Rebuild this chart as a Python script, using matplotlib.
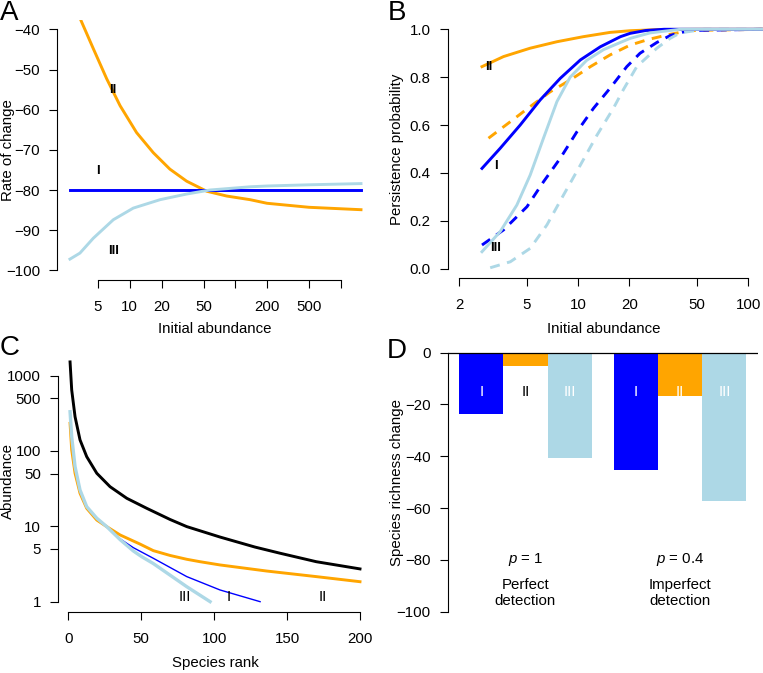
import matplotlib
matplotlib.use('Agg')
import matplotlib.pyplot as plt
from matplotlib.ticker import FixedLocator, NullLocator, FixedFormatter

matplotlib.rc('font', family='Liberation Sans', size=10.8)
matplotlib.rcParams['mathtext.fontset'] = 'custom'
matplotlib.rcParams['mathtext.it'] = 'Liberation Sans:italic'
matplotlib.rcParams['mathtext.rm'] = 'Liberation Sans'

BLUE = '#0000ff'
ORANGE = '#ffa500'
LBLUE = '#add8e6'

# ---- panel A: rate of change vs initial abundance
a_n_orange = [3.37, 4.51, 6.04, 8.09, 11.6, 16.7, 24.0, 34.6, 53.6, 83, 138, 200, 500, 1556]
a_orange = [-37.2, -44.8, -52.3, -59.0, -65.7, -70.7, -74.8, -77.8, -80.3, -81.5, -82.4, -83.3, -84.3, -84.9]
a_n_lblue = [2.71, 3.37, 4.51, 6.98, 10.8, 19.4, 34.6, 57.5, 138, 200, 500, 1556]
a_lblue = [-97.2, -95.7, -92.0, -87.4, -84.5, -82.4, -81.0, -80.0, -79.2, -79.0, -78.7, -78.4]
a_n_blue = [2.71, 1556]
a_blue = [-80, -80]
a_xticks = [5, 10, 20, 50, 100, 200, 500, 1000]
a_xticklabels = ['5', '10', '20', '50', '', '200', '500', '']
a_yticks = [-40, -50, -60, -70, -80, -90, -100]

# ---- panel B: persistence probability (solid = perfect, dashed = imperfect detection)
b_n_orange = [2.72, 3.64, 5.22, 7.5, 10.7, 15.4, 20.2, 30, 50, 125]
b_orange = [0.844, 0.886, 0.921, 0.948, 0.969, 0.987, 0.994, 0.999, 1.0, 1.0]
b_n_blue = [2.72, 3.48, 4.56, 5.98, 7.84, 10.3, 13.5, 17.7, 20.2, 25, 32, 125]
b_blue = [0.419, 0.503, 0.6, 0.705, 0.795, 0.872, 0.927, 0.969, 0.983, 0.995, 1.0, 1.0]
b_n_lblue = [2.72, 3.48, 4.36, 5.22, 6.25, 7.5, 8.97, 11.2, 14.1, 17.7, 20.2, 26.5, 40, 125]
b_lblue = [0.071, 0.155, 0.266, 0.391, 0.545, 0.698, 0.8, 0.87, 0.915, 0.945, 0.962, 0.985, 1.0, 1.0]
b_n_orange_d = [2.97, 3.99, 5.22, 6.85, 8.97, 11.8, 15.4, 20.2, 26, 34.7, 45.5, 125]
b_orange_d = [0.545, 0.614, 0.677, 0.739, 0.788, 0.844, 0.893, 0.934, 0.958, 0.979, 0.995, 1.0]
b_n_blue_d = [2.72, 3.64, 5.0, 6.25, 7.84, 9.83, 12.3, 15.4, 19.3, 23.1, 29, 35, 45, 125]
b_blue_d = [0.099, 0.162, 0.259, 0.363, 0.461, 0.572, 0.67, 0.754, 0.844, 0.9, 0.945, 0.975, 0.995, 1.0]
b_n_lblue_d = [3.04, 3.99, 5.22, 6.55, 8.2, 10.3, 12.9, 16.1, 18.5, 22.1, 29, 34.7, 39.8, 55, 125]
b_lblue_d = [0.004, 0.029, 0.085, 0.183, 0.308, 0.433, 0.558, 0.67, 0.75, 0.844, 0.921, 0.962, 0.985, 1.0, 1.0]
b_xticks = [2, 5, 10, 20, 50, 100]
b_yticks = [0.0, 0.2, 0.4, 0.6, 0.8, 1.0]

# ---- panel C: rank abundance
c_rank_black = [1.17, 2.3, 4.6, 8.0, 12.6, 19.5, 28.6, 40.1, 53.8, 69.8, 81.2, 104, 128, 145, 170, 200]
c_black = [1514, 643, 284, 140, 83.8, 50.5, 33.5, 23.5, 17.3, 12.3, 9.9, 7.2, 5.3, 4.4, 3.39, 2.72]
c_rank_orange = [1.17, 2.3, 4.6, 8.0, 12.6, 19.5, 26.3, 35.5, 49.2, 58.3, 69.8, 81.2, 90.3, 104, 136, 170, 200]
c_orange = [232, 103, 50.5, 27.4, 17.3, 12.1, 9.9, 7.67, 5.8, 4.75, 4.1, 3.65, 3.39, 3.07, 2.55, 2.15, 1.84]
c_rank_lblue = [1.17, 2.3, 4.6, 8.0, 12.6, 19.5, 26.3, 35.5, 44.6, 50.3, 58.3, 66.3, 81.2, 97.2]
c_lblue = [331, 154, 61.7, 30.3, 18.2, 12.8, 9.9, 6.65, 4.7, 3.95, 3.2, 2.5, 1.58, 1.0]
c_rank_blue = [1.17, 2.3, 4.6, 8.0, 12.6, 19.5, 26.3, 35.5, 44.6, 58.3, 81.2, 104, 131.5]
c_blue = [331, 154, 61.7, 30.3, 18.2, 12.8, 9.9, 6.8, 5.2, 3.76, 2.15, 1.43, 1.0]
c_xticks = [0, 50, 100, 150, 200]
c_yticks = [1, 5, 10, 50, 100, 500, 1000]

# ---- panel D: species richness change
d_scenarios = ['I', 'II', 'III']
d_perfect = [-23.7, -5.0, -40.8]
d_imperfect = [-45.4, -16.8, -57.4]
d_yticks = [0, -20, -40, -60, -80, -100]


def r_style(ax, xb=None, yb=None):
    ax.spines['top'].set_visible(False)
    ax.spines['right'].set_visible(False)
    for s in ('left', 'bottom'):
        ax.spines[s].set_linewidth(0.8)
    if xb is not None:
        ax.spines['bottom'].set_bounds(*xb)
    if yb is not None:
        ax.spines['left'].set_bounds(*yb)
    ax.tick_params(axis='both', direction='out', length=5.8, width=0.8)
    ax.tick_params(axis='x', pad=8.5)
    ax.tick_params(axis='y', pad=6.5)


fig = plt.figure(figsize=(7.63, 6.73), dpi=100)
W, H = 763.0, 673.0


def add_axes(x0, x1, y0, y1):
    return fig.add_axes([x0 / W, 1 - y1 / H, (x1 - x0) / W, (y1 - y0) / H])


# A
ax = add_axes(57.2, 372.7, 19.7, 280)
ax.set_xscale('log')
ax.plot(a_n_orange, a_orange, color=ORANGE, lw=2.1)
ax.plot(a_n_blue, a_blue, color=BLUE, lw=2.1)
ax.plot(a_n_lblue, a_lblue, color=LBLUE, lw=2.1)
ax.set_xlim(10 ** 0.312, 10 ** 3.303)
ax.set_ylim(-102.4, -37.6)
ax.xaxis.set_major_locator(FixedLocator(a_xticks))
ax.xaxis.set_major_formatter(FixedFormatter(a_xticklabels))
ax.xaxis.set_minor_locator(NullLocator())
ax.set_yticks(a_yticks)
r_style(ax, (5, 1000), (-100, -40))
ax.text(6.9, -55.0, 'II', fontweight='bold', fontsize=9.5, ha='center', va='center')
ax.text(5, -75.3, 'I', fontweight='bold', fontsize=9.5, ha='center', va='center')
ax.text(7, -95.1, 'III', fontweight='bold', fontsize=9.5, ha='center', va='center')
ax.set_xlabel('Initial abundance', va='center')
ax.xaxis.set_label_coords(0.5, -0.188)
ax.set_ylabel('Rate of change', va='center')
ax.yaxis.set_label_coords(-0.155, 0.5)

# B
ax = add_axes(447.7, 759.9, 19.7, 278.3)
ax.set_xscale('log')
dash = (0, (3.4, 2.6))
ax.plot(b_n_orange_d, b_orange_d, color=ORANGE, lw=2.1, ls=dash, clip_on=False)
ax.plot(b_n_blue_d, b_blue_d, color=BLUE, lw=2.1, ls=dash, clip_on=False)
ax.plot(b_n_lblue_d, b_lblue_d, color=LBLUE, lw=2.1, ls=dash, clip_on=False)
ax.plot(b_n_orange, b_orange, color=ORANGE, lw=2.1, clip_on=False)
ax.plot(b_n_blue, b_blue, color=BLUE, lw=2.1, clip_on=False)
ax.plot(b_n_lblue, b_lblue, color=LBLUE, lw=2.1, clip_on=False)
ax.set_xlim(10 ** 0.233, 10 ** 2.068)
ax.set_ylim(-0.04, 1.04)
ax.xaxis.set_major_locator(FixedLocator(b_xticks))
ax.xaxis.set_major_formatter(FixedFormatter([str(t) for t in b_xticks]))
ax.xaxis.set_minor_locator(NullLocator())
ax.set_yticks(b_yticks)
ax.set_yticklabels(['%.1f' % t for t in b_yticks])
r_style(ax, (2, 100), (0, 1))
ax.text(2.97, 0.844, 'II', fontweight='bold', fontsize=9.5, ha='center', va='center')
ax.text(3.29, 0.43, 'I', fontweight='bold', fontsize=9.5, ha='center', va='center')
ax.text(3.29, 0.085, 'III', fontweight='bold', fontsize=9.5, ha='center', va='center')
ax.set_xlabel('Initial abundance', va='center')
ax.xaxis.set_label_coords(0.5, -0.196)
ax.set_ylabel('Persistence probability', va='center')
ax.yaxis.set_label_coords(-0.163, 0.5)

# C
ax = add_axes(58.2, 371.6, 350.4, 611.7)
ax.set_yscale('log')
ax.plot(c_rank_black, c_black, color='black', lw=2.1)
ax.plot(c_rank_orange, c_orange, color=ORANGE, lw=2.1)
ax.plot(c_rank_blue, c_blue, color=BLUE, lw=1.0)
ax.plot(c_rank_lblue, c_lblue, color=LBLUE, lw=2.4)
ax.set_xlim(-6.96, 207.96)
ax.set_ylim(10 ** -0.133, 10 ** 3.333)
ax.set_xticks(c_xticks)
ax.yaxis.set_major_locator(FixedLocator(c_yticks))
ax.yaxis.set_major_formatter(FixedFormatter([str(t) for t in c_yticks]))
ax.yaxis.set_minor_locator(NullLocator())
r_style(ax, (0, 200), (1, 1000))
ax.text(80, 1.16, 'III', ha='center', va='center')
ax.text(110, 1.16, 'I', ha='center', va='center')
ax.text(174.5, 1.16, 'II', ha='center', va='center')
ax.set_xlabel('Species rank', va='center')
ax.xaxis.set_label_coords(0.5, -0.196)
ax.set_ylabel('Abundance', va='center')
ax.yaxis.set_label_coords(-0.159, 0.5)

# D
ax = add_axes(447.7, 757.9, 342.3, 622.0)
colors = [BLUE, ORANGE, LBLUE]
lefts1 = [0.5, 1.5, 2.5]
lefts2 = [4.0, 5.0, 6.0]
ax.bar(lefts1, d_perfect, width=1.0, align='edge', color=colors)
ax.bar(lefts2, d_imperfect, width=1.0, align='edge', color=colors)
ax.axhline(0, color='black', lw=0.9)
txt1 = ['white', 'black', 'white']
for i, lab in enumerate(d_scenarios):
    ax.text(lefts1[i] + 0.5, -15.1, lab, color=txt1[i], ha='center', va='center')
    ax.text(lefts2[i] + 0.5, -15.1, lab, color='white', ha='center', va='center')
ax.text(2.0, -80, r'$p$ = 1', ha='center', va='center')
ax.text(5.5, -80, r'$p$ = 0.4', ha='center', va='center')
ax.text(2.0, -92.7, 'Perfect\ndetection', ha='center', va='center', linespacing=1.2)
ax.text(5.5, -92.7, 'Imperfect\ndetection', ha='center', va='center', linespacing=1.2)
ax.set_xlim(0.24, 7.26)
ax.set_ylim(-104, 4)
ax.set_yticks(d_yticks)
ax.set_xticks([])
r_style(ax, None, (-100, 0))
ax.spines['bottom'].set_visible(False)
ax.set_ylabel('Species richness change', va='center')
ax.yaxis.set_label_coords(-0.163, 0.5)

# panel letters
for lab, x, y in [('A', 0, 0), ('B', 388, 0), ('C', 0, 335), ('D', 387, 338)]:
    fig.text(x / W, 1 - y / H, lab, fontsize=20, ha='left', va='top')

fig.savefig('out.png', dpi=100)
